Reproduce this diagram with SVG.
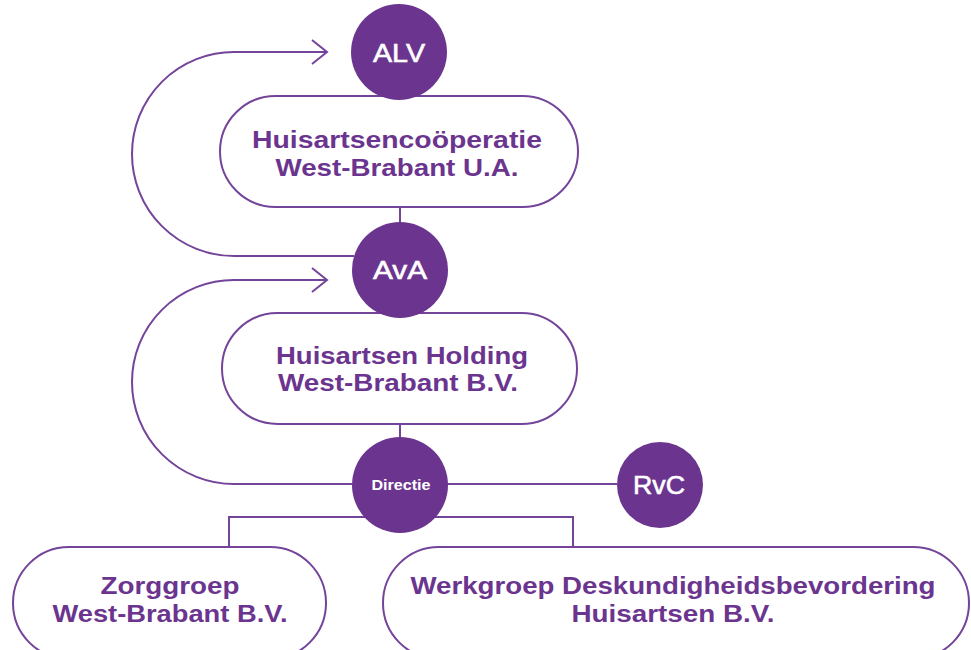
<svg xmlns="http://www.w3.org/2000/svg" width="971" height="650" viewBox="0 0 971 650">
<style>
.bg{fill:#ffffff}
.line{fill:none;stroke:#74449a;stroke-width:2}
.box{fill:#ffffff;stroke:#74449a;stroke-width:2}
.dot{fill:#6b358f}
.lbl{font-family:"Liberation Sans",Arial,sans-serif;font-weight:bold;font-size:23.5px;fill:#6b358f;text-anchor:middle}
.cl{font-family:"Liberation Sans",Arial,sans-serif;font-size:26px;fill:#ffffff;stroke:#ffffff;stroke-width:0.6;text-anchor:middle}
.cs{font-family:"Liberation Sans",Arial,sans-serif;font-weight:bold;font-size:14px;fill:#ffffff;text-anchor:middle}
</style>
<defs>
<marker id="chev" viewBox="0 0 20 30" refX="17" refY="15" markerWidth="20" markerHeight="30" markerUnits="userSpaceOnUse" orient="auto">
<path d="M2 3 L17 15 L2 27" fill="none" stroke="#74449a" stroke-width="2"/>
</marker>
</defs>
<rect class="bg" x="0" y="0" width="971" height="650"/>
<g id="connectors">
<path class="line" d="M354 256 H234 A102 102 0 0 1 234 52 H327" marker-end="url(#chev)"/>
<path class="line" d="M352 484 H234 A102 102 0 0 1 234 280 H327" marker-end="url(#chev)"/>
<path class="line" d="M400 207 V222"/>
<path class="line" d="M400 424 V437"/>
<path class="line" d="M447 484 H617"/>
<path class="line" d="M229 547 V517 H573 V547"/>
</g>
<g id="box1">
<rect class="box" x="220" y="96" width="358" height="111" rx="55.5"/>
<text class="lbl" x="397" y="148" textLength="290" lengthAdjust="spacingAndGlyphs">Huisartsencoöperatie</text>
<text class="lbl" x="397" y="176" textLength="243" lengthAdjust="spacingAndGlyphs">West-Brabant U.A.</text>
</g>
<g id="box2">
<rect class="box" x="222" y="313" width="355" height="111" rx="55.5"/>
<text class="lbl" x="402" y="364" textLength="252" lengthAdjust="spacingAndGlyphs">Huisartsen Holding</text>
<text class="lbl" x="398" y="391" textLength="240" lengthAdjust="spacingAndGlyphs">West-Brabant B.V.</text>
</g>
<g id="box3">
<rect class="box" x="13" y="547" width="313" height="112" rx="56"/>
<text class="lbl" x="170" y="594" textLength="139" lengthAdjust="spacingAndGlyphs">Zorggroep</text>
<text class="lbl" x="170" y="622" textLength="235" lengthAdjust="spacingAndGlyphs">West-Brabant B.V.</text>
</g>
<g id="box4">
<rect class="box" x="383" y="547" width="586" height="112" rx="56"/>
<text class="lbl" x="673" y="594" textLength="525" lengthAdjust="spacingAndGlyphs">Werkgroep Deskundigheidsbevordering</text>
<text class="lbl" x="673" y="622" textLength="203" lengthAdjust="spacingAndGlyphs">Huisartsen B.V.</text>
</g>
<g id="alv">
<circle class="dot" cx="399" cy="52" r="48"/>
<text class="cl" x="399" y="62" textLength="52" lengthAdjust="spacingAndGlyphs">ALV</text>
</g>
<g id="ava">
<circle class="dot" cx="400" cy="270" r="48"/>
<text class="cl" x="400" y="279" textLength="54" lengthAdjust="spacingAndGlyphs">AvA</text>
</g>
<g id="directie">
<circle class="dot" cx="400" cy="485" r="48"/>
<text class="cs" x="401" y="490" textLength="59" lengthAdjust="spacingAndGlyphs">Directie</text>
</g>
<g id="rvc">
<circle class="dot" cx="660" cy="485" r="43"/>
<text class="cl" x="659" y="494" textLength="52" lengthAdjust="spacingAndGlyphs">RvC</text>
</g>
</svg>
